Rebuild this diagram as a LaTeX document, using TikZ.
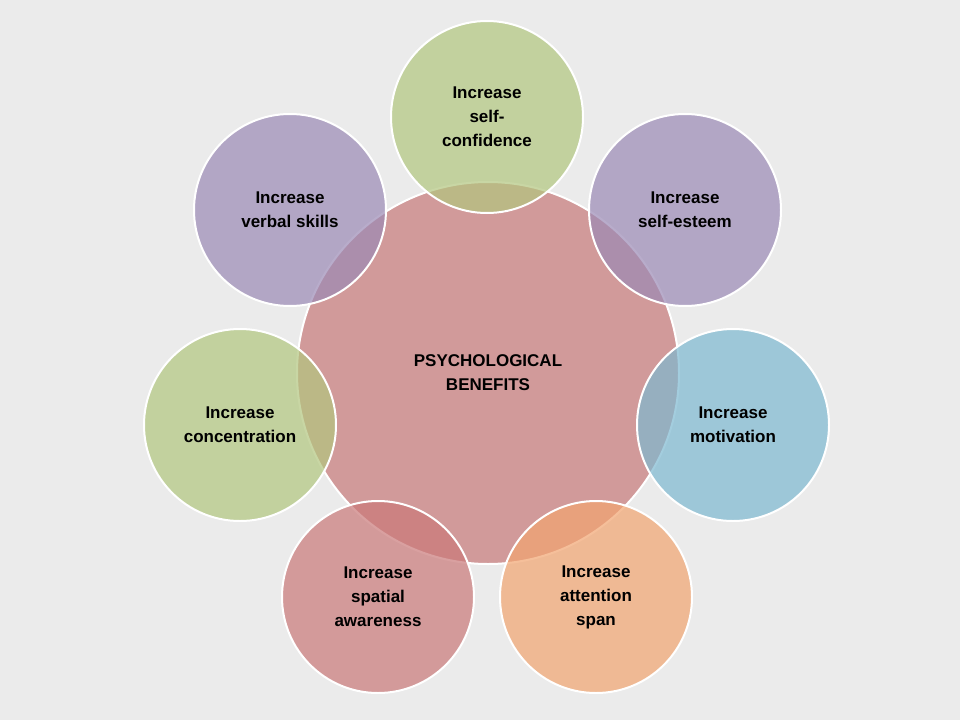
\documentclass[tikz,border=0pt]{standalone}
\usepackage{fontspec}
\setmainfont{Liberation Sans}
\definecolor{bg}{RGB}{235,235,235}
\definecolor{cc}{RGB}{199,121,121}
\definecolor{gr}{RGB}{178,198,126}
\definecolor{pu}{RGB}{155,138,181}
\definecolor{bl}{RGB}{125,184,208}
\definecolor{orr}{RGB}{242,164,112}
\definecolor{ro}{RGB}{202,121,121}
\begin{document}
\begin{tikzpicture}[x=1pt,y=-1pt,
  bub/.style={circle,draw=white,line width=2pt,fill opacity=0.7,text opacity=1,minimum size=192pt,inner sep=0pt,align=center,font=\fontsize{17}{24}\selectfont\bfseries,text=black}]
\fill[bg] (0,0) rectangle (960,720);
\useasboundingbox (0,0) rectangle (960,720);
\node[bub,fill=cc,minimum size=382pt] (c) at (488,373) {PSYCHOLOGICAL\\BENEFITS};
\node[bub,fill=gr] (t) at (487,117) {Increase\\self-\\confidence};
\node[bub,fill=pu] (tr) at (685,210) {Increase\\self-esteem};
\node[bub,fill=bl] (r) at (733,425) {Increase\\motivation};
\node[bub,fill=orr] (br) at (596,597) {Increase\\attention\\span};
\node[bub,fill=ro] (bL) at (378,597) {Increase\\spatial\\awareness};
\node[bub,fill=gr] (l) at (240,425) {Increase\\concentration};
\node[bub,fill=pu] (tl) at (290,210) {Increase\\verbal skills};
\end{tikzpicture}
\end{document}
